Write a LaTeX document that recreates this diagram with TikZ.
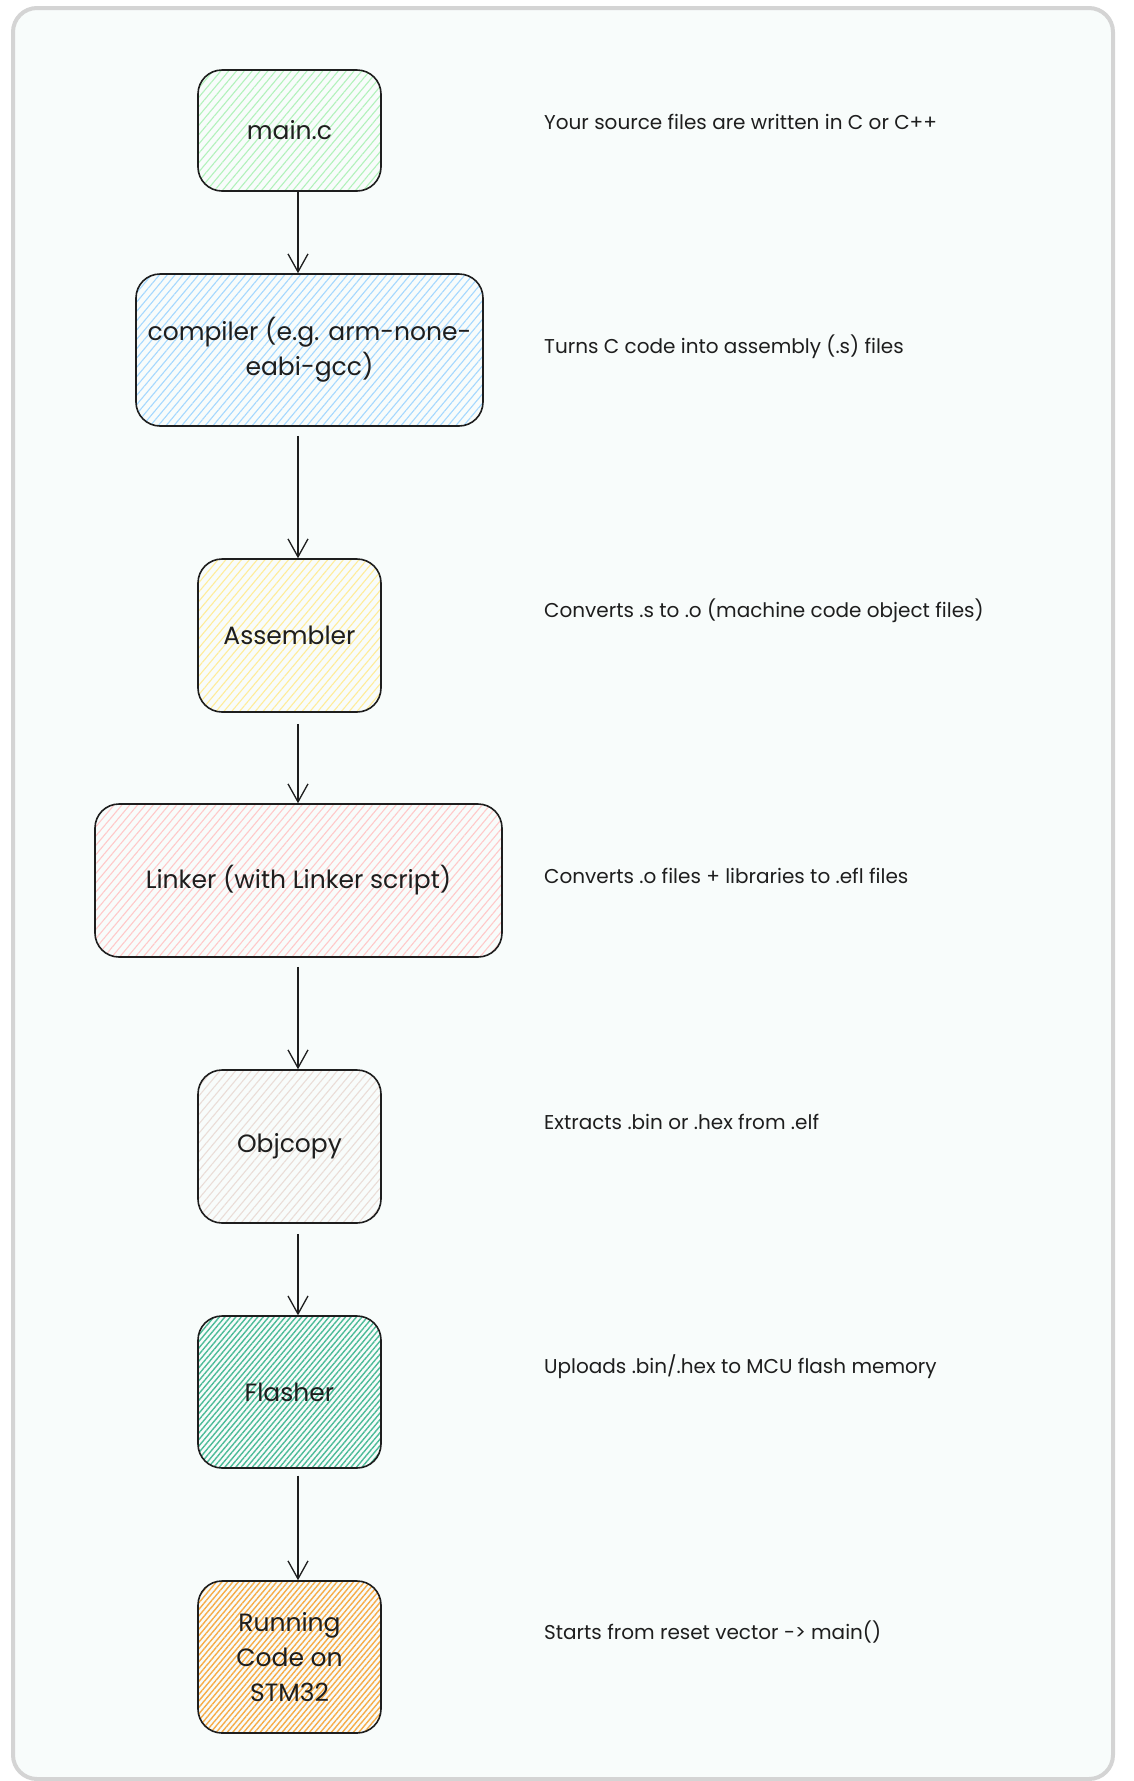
\documentclass[tikz,border=0pt]{standalone}
\usepackage{fontspec}
\setmainfont{Poppins}
\usetikzlibrary{arrows.meta,patterns.meta}
\definecolor{ink}{HTML}{1E1E1E}
\definecolor{pagebg}{HTML}{F8FCFB}
\definecolor{framegray}{HTML}{D4D4D4}
\definecolor{hgreen}{HTML}{B2F2BB}
\definecolor{hblue}{HTML}{A5D8FF}
\definecolor{hyellow}{HTML}{FFEC99}
\definecolor{hred}{HTML}{FFC9C9}
\definecolor{hbronze}{HTML}{EADDD7}
\definecolor{hteal}{HTML}{4CBB98}
\definecolor{horange}{HTML}{F6AC48}
\begin{document}
\begin{tikzpicture}[x=1pt,y=-1pt,
  stage/.style={draw=ink, line width=1.6pt, rounded corners=24pt, align=center,
    inner sep=0pt, font=\fontsize{25}{35}\selectfont, text=ink,
    minimum width=183pt, minimum height=153pt, preaction={fill=pagebg}},
  hatch/.style={pattern={Lines[angle=50,distance=6pt,line width=1.1pt]}, pattern color=#1},
  dense/.style={pattern={Lines[angle=50,distance=4.2pt,line width=1.4pt]}, pattern color=#1},
  note/.style={anchor=west, inner sep=0pt, font=\fontsize{20}{24}\selectfont, text=ink},
  arr/.style={draw=ink, line width=1.3pt, -{Straight Barb[length=18pt,width=20pt,line width=1.3pt]}},
]
\useasboundingbox (0,0) rectangle (1134,1781);
\draw[draw=framegray, line width=4pt, fill=pagebg, rounded corners=24pt] (13,8) rectangle (1113,1779);

\node[stage, hatch=hgreen, minimum height=121pt] (main) at (289.5,130.5) {main.c};
\node[stage, hatch=hblue, minimum width=347pt, minimum height=152pt] (comp) at (309.5,350) {compiler (e.g. arm-none-\\eabi-gcc)};
\node[stage, hatch=hyellow] (asm) at (289.5,635.5) {Assembler};
\node[stage, hatch=hred, minimum width=407pt] (link) at (298.5,880.5) {Linker (with Linker script)};
\node[stage, hatch=hbronze] (objc) at (289.5,1146.5) {Objcopy};
\node[stage, dense=hteal, minimum height=152pt] (flash) at (289.5,1392) {Flasher};
\node[stage, dense=horange, minimum height=152pt] (run) at (289.5,1657) {Running\\Code on\\STM32};

\coordinate (col) at (298,0);
\draw[arr] (main.south -| col) -- (comp.north -| col);
\draw[arr, shorten <=9pt] (comp.south -| col) -- (asm.north -| col);
\draw[arr, shorten <=11pt] (asm.south -| col) -- (link.north -| col);
\draw[arr, shorten <=9pt] (link.south -| col) -- (objc.north -| col);
\draw[arr, shorten <=10pt] (objc.south -| col) -- (flash.north -| col);
\draw[arr, shorten <=7pt] (flash.south -| col) -- (run.north -| col);

\node[note] (n1) at (544,121.6) {Your source files are written in C or C++};
\node[note] (n2) at (544,346.6) {Turns C code into assembly (.s) files};
\node[note] (n3) at (544,611) {Converts .s to .o (machine code object files)};
\node[note] (n4) at (544,876) {Converts .o files + libraries to .efl files};
\node[note] (n5) at (544,1121.5) {Extracts .bin or .hex from .elf};
\node[note] (n6) at (544,1367) {Uploads .bin/.hex to MCU flash memory};
\node[note] (n7) at (544,1632) {Starts from reset vector -> main()};
\end{tikzpicture}
\end{document}
